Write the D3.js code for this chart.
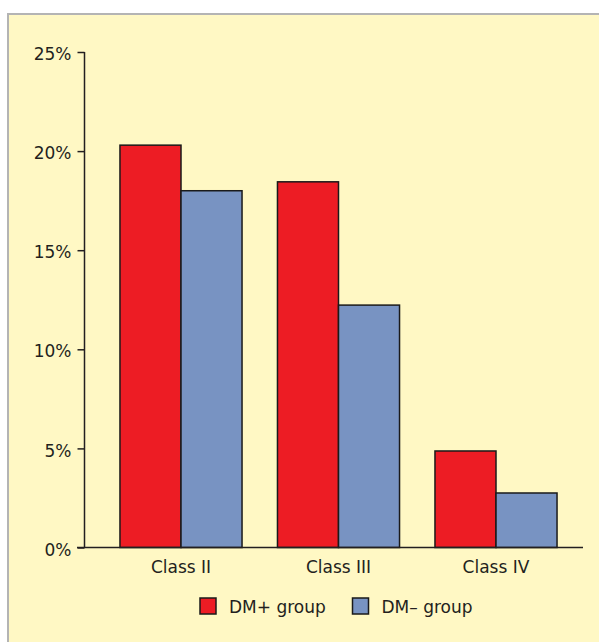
<!DOCTYPE html>
<html>
<head>
<meta charset="utf-8">
<script src="https://cdn.jsdelivr.net/npm/d3@7"></script>
<style>
  body { margin: 0; background: #fff; }
  svg { display: block; font-family: "DejaVu Sans", sans-serif; }
</style>
</head>
<body>
<div id="container"></div>
<script>
const WIDTH = 599;
const HEIGHT = 642;

const categories = ['Class II', 'Class III', 'Class IV'];
const groups = ['DM+ group', 'DM\u2013 group'];
const dmPlus = [20.3, 18.45, 4.87];
const dmMinus = [18.0, 12.23, 2.75];
const yTicks = [0, 5, 10, 15, 20, 25];
const colors = ['#ed1c24', '#7893c2'];

const data = categories.map((c, i) => ({ cat: c, values: [dmPlus[i], dmMinus[i]] }));

const svg = d3.select('#container')
              .append('svg')
                .attr('width', WIDTH)
                .attr('height', HEIGHT);

// panel background with grey frame on top/left
svg.append('rect')
   .attr('x', 8).attr('y', 14)
   .attr('width', WIDTH).attr('height', HEIGHT)
   .attr('fill', '#fff8c4')
   .attr('stroke', '#b4b4b4')
   .attr('stroke-width', 2);

const yscale = d3.scaleLinear()
                 .domain([0, 25])
                 .range([547.5, 52]);

const xscale = d3.scaleBand()
                 .domain(categories)
                 .range([102.25, 574.75])
                 .paddingInner(0.225)
                 .paddingOuter(0.1125);

const xsub = d3.scaleBand()
               .domain(groups)
               .range([0, xscale.bandwidth()]);

const g = svg.selectAll('g.cat')
             .data(data)
             .enter()
             .append('g')
               .attr('class', 'cat')
               .attr('transform', d => `translate(${xscale(d.cat)}, 0)`);

g.selectAll('rect')
 .data(d => d.values.map((v, j) => ({ group: groups[j], v, j })))
 .enter()
 .append('rect')
   .attr('x', d => xsub(d.group))
   .attr('y', d => yscale(d.v))
   .attr('width', xsub.bandwidth())
   .attr('height', d => yscale(0) - yscale(d.v))
   .attr('fill', d => colors[d.j])
   .attr('stroke', '#1a1a1a')
   .attr('stroke-width', 1.5);

// y axis
const axisLeft = d3.axisLeft(yscale)
                   .tickValues(yTicks)
                   .tickSize(7)
                   .tickPadding(6)
                   .tickFormat(d => d + '%');

const ya = svg.append('g')
              .attr('transform', 'translate(84.5, 0)')
              .call(axisLeft);
ya.select('.domain').remove();
ya.append('line')
  .attr('x1', 0).attr('x2', 0)
  .attr('y1', yscale(25)).attr('y2', yscale(0))
  .attr('stroke', '#231f20').attr('stroke-width', 1.5);
ya.selectAll('.tick line').attr('stroke', '#231f20').attr('stroke-width', 1.5);
ya.selectAll('.tick text')
  .attr('font-size', 17)
  .attr('font-family', '"DejaVu Sans", sans-serif')
  .attr('fill', '#231f20')
  .attr('dy', '0.45em');

// x axis line
svg.append('line')
   .attr('x1', 77).attr('x2', 583)
   .attr('y1', yscale(0)).attr('y2', yscale(0))
   .attr('stroke', '#231f20').attr('stroke-width', 1.5);

svg.selectAll('text.xlab')
   .data(categories)
   .enter()
   .append('text')
     .attr('class', 'xlab')
     .attr('x', d => xscale(d) + xscale.bandwidth() / 2)
     .attr('y', 573)
     .attr('text-anchor', 'middle')
     .attr('font-size', 17)
     .attr('fill', '#231f20')
     .text(d => d);

// legend
const legendX = [200, 352.5];
const lg = svg.selectAll('g.legend')
              .data(groups)
              .enter()
              .append('g')
                .attr('class', 'legend')
                .attr('transform', (d, i) => `translate(${legendX[i]}, 598)`);
lg.append('rect')
  .attr('width', 16).attr('height', 16)
  .attr('fill', (d, i) => colors[i])
  .attr('stroke', '#1a1a1a')
  .attr('stroke-width', 1.5);
lg.append('text')
  .attr('x', 29).attr('y', 15)
  .attr('font-size', 17)
  .attr('fill', '#231f20')
  .text(d => d);
</script>
</body>
</html>
